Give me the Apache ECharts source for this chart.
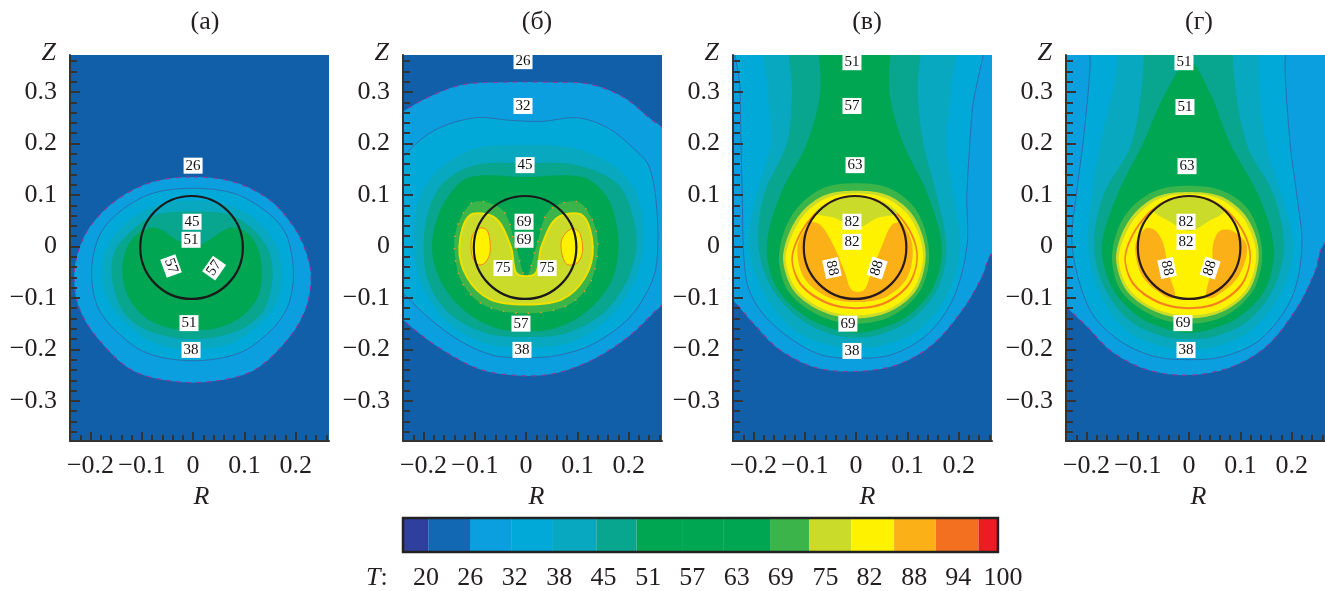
<!DOCTYPE html>
<html><head><meta charset="utf-8">
<style>html,body{margin:0;padding:0;background:#fff}#c{width:1325px;height:591px}</style>
<script src="https://cdn.jsdelivr.net/npm/echarts@6/dist/echarts.min.js"></script>
</head><body><div id="c"></div>
<script>
// colour of each temperature band
const C26='#0b9fe0',C32='#00a9d8',C38='#08a8c0',C45='#08a58f',C51='#00a651',C69='#3bb54a',C75='#cbdb2a',C82='#fff200',C88='#fbb017',C94='#f37021';
const panelTitles=['(а)','(б)','(в)','(г)'];
const legendLevels=[20,26.15,32.3,38.46,44.6,50.8,56.9,63.1,69.2,75.4,81.5,87.7,93.8,100];
const legendEdges=[16.81,20.3,26.1,31.8,37.6,43.6,49.2,55.5,61.3,67.7,73.1,79,84.9,90.7,96.6,99.3];
const legendColors=['#2e3f9e','#1268b3',C26,C32,C38,C45,C51,C51,C51,C69,C75,C82,C88,C94,'#ed1c24'];
const majorX=[-0.2,-0.1,0,0.1,0.2];
const minorX=[-0.24,-0.22,-0.18,-0.16,-0.14,-0.12,-0.08,-0.06,-0.04,-0.02,0.02,0.04,0.06,0.08,0.12,0.14,0.16,0.18,0.22,0.24,0.26];
const majorY=[-0.3,-0.2,-0.1,0,0.1,0.2,0.3];
const minorY=[-0.36,-0.34,-0.32,-0.28,-0.26,-0.24,-0.22,-0.18,-0.16,-0.14,-0.12,-0.08,-0.06,-0.04,-0.02,0.02,0.04,0.06,0.08,0.12,0.14,0.16,0.18,0.22,0.24,0.26,0.28,0.32,0.34,0.36];

// Panel (a) contours [R,Z]
const a26=[[0,.135],[.08,.125],[.15,.09],[.195,.04],[.22,-.01],[.23,-.06],[.22,-.12],[.185,-.18],[.12,-.24],[.04,-.262],[-.04,-.262],[-.12,-.24],[-.185,-.18],[-.222,-.12],[-.232,-.06],[-.224,-.01],[-.2,.04],[-.15,.09],[-.08,.125]];
const a32=[[0,.113],[.08,.103],[.14,.07],[.178,.03],[.193,-.02],[.195,-.07],[.183,-.12],[.15,-.165],[.09,-.207],[0,-.222],[-.09,-.207],[-.15,-.165],[-.185,-.12],[-.197,-.07],[-.195,-.02],[-.178,.03],[-.14,.07],[-.08,.103]];
const a38=[[0,.09],[.07,.08],[.125,.05],[.163,.0],[.173,-.05],[.165,-.105],[.125,-.155],[.07,-.19],[0,-.2],[-.07,-.19],[-.125,-.155],[-.165,-.105],[-.177,-.05],[-.167,.0],[-.125,.05],[-.07,.08]];
const a45=[[0,.068],[.07,.062],[.115,.035],[.148,-.01],[.155,-.06],[.14,-.12],[.105,-.155],[.05,-.175],[0,-.18],[-.05,-.175],[-.105,-.155],[-.14,-.12],[-.158,-.06],[-.153,-.01],[-.115,.035],[-.07,.062]];
const a51=[[0,-.002],[.03,.012],[.07,.036],[.1,.03],[.125,.0],[.134,-.05],[.125,-.1],[.09,-.14],[.04,-.16],[0,-.162],[-.04,-.16],[-.09,-.14],[-.125,-.1],[-.138,-.05],[-.128,.0],[-.1,.03],[-.07,.036],[-.03,.012]];

// Panel (б) contours
const b26=[[-.29,.22],[-.24,.262],[-.18,.295],[-.12,.315],[-.05,.319],[.05,.319],[.125,.315],[.19,.29],[.24,.25],[.3,.2],[.34,.05],[.34,-.06],[.265,-.114],[.2,-.175],[.13,-.22],[.05,-.248],[-.03,-.25],[-.1,-.235],[-.18,-.19],[-.24,-.143],[-.3,-.09],[-.33,.05]];
const b32=[[-.27,.13],[-.24,.174],[-.18,.225],[-.1,.25],[-.03,.245],[.03,.243],[.1,.25],[.16,.23],[.21,.19],[.24,.155],[.255,.07],[.255,-.03],[.24,-.08],[.2,-.14],[.13,-.19],[.06,-.212],[0,-.216],[-.07,-.21],[-.15,-.17],[-.24,-.09],[-.27,-.04]];
const b38=[[0,.197],[.1,.19],[.18,.15],[.22,.09],[.228,.0],[.21,-.07],[.16,-.14],[.09,-.185],[0,-.197],[-.09,-.185],[-.16,-.14],[-.205,-.07],[-.218,.0],[-.21,.09],[-.17,.15],[-.1,.19]];
const b45=[[0,.162],[.1,.158],[.175,.125],[.205,.07],[.215,.0],[.195,-.07],[.15,-.13],[.08,-.168],[0,-.176],[-.08,-.168],[-.15,-.13],[-.19,-.07],[-.2,.0],[-.19,.07],[-.16,.125],[-.1,.158]];
const b51=[[0,.135],[.11,.135],[.155,.1],[.175,.05],[.18,-.01],[.165,-.07],[.12,-.125],[.06,-.158],[0,-.165],[-.06,-.158],[-.12,-.125],[-.165,-.07],[-.183,-.01],[-.175,.05],[-.15,.1],[-.11,.135]];
const b69=[[0,-.06],[.02,.0],[.045,.07],[.1,.087],[.13,.05],[.14,.0],[.125,-.07],[.08,-.115],[0,-.13],[-.08,-.115],[-.125,-.07],[-.14,.0],[-.13,.05],[-.1,.087],[-.045,.07],[-.02,.0]];
const b75=[[0,-.058],[.02,-.05],[.03,.0],[.06,.055],[.11,.06],[.13,.0],[.115,-.06],[.07,-.103],[0,-.113],[-.07,-.103],[-.115,-.06],[-.13,.0],[-.11,.06],[-.06,.055],[-.03,.0],[-.02,-.05]];
const b82L=[[-.105,.02],[-.09,.036],[-.075,.03],[-.07,-.01],[-.08,-.032],[-.095,-.035],[-.106,-.015]];
const b82R=[[.07,.015],[.09,.035],[.105,.025],[.11,-.01],[.1,-.032],[.08,-.035],[.07,-.015]];

// Panel (в) contours
const c26=[[-.3,.5],[.35,.5],[.35,.06],[.265,-.013],[.245,-.06],[.21,-.12],[.15,-.19],[.08,-.23],[0,-.243],[-.08,-.235],[-.15,-.2],[-.2,-.15],[-.24,-.105],[-.3,-.05]];
const c32=[[-.228,.5],[.238,.5],[.225,.25],[.216,.1],[.216,0],[.19,-.1],[.14,-.17],[.07,-.21],[0,-.217],[-.07,-.21],[-.14,-.17],[-.19,-.12],[-.215,-.06],[-.222,.1],[-.226,.3]];
const c38=[[-.174,.5],[.19,.5],[.185,.3],[.176,.2],[.19,.1],[.203,0],[.18,-.09],[.125,-.16],[.06,-.19],[0,-.197],[-.06,-.19],[-.125,-.16],[-.18,-.09],[-.21,0],[-.194,.1],[-.167,.2],[-.172,.3]];
const c45=[[-.125,.5],[.118,.5],[.12,.3],[.131,.2],[.157,.1],[.176,0],[.16,-.08],[.11,-.14],[.05,-.17],[0,-.177],[-.05,-.17],[-.11,-.14],[-.165,-.08],[-.19,0],[-.18,.1],[-.135,.2],[-.125,.3]];
const c51=[[-.067,.5],[.06,.5],[.065,.3],[.092,.2],[.14,.1],[.167,0],[.15,-.08],[.1,-.135],[.045,-.16],[0,-.168],[-.045,-.16],[-.1,-.135],[-.155,-.08],[-.174,0],[-.148,.1],[-.096,.2],[-.07,.3]];
const c69=[[0,.123],[.06,.115],[.11,.08],[.135,.03],[.142,-.03],[.122,-.09],[.07,-.135],[0,-.15],[-.07,-.135],[-.13,-.09],[-.15,-.03],[-.14,.03],[-.11,.08],[-.06,.115]];
const c75=[[0,.108],[.06,.1],[.105,.068],[.13,.02],[.135,-.03],[.115,-.088],[.065,-.127],[0,-.14],[-.065,-.127],[-.12,-.088],[-.142,-.03],[-.133,.02],[-.105,.068],[-.06,.1]];
const c82=[[0,.103],[.055,.095],[.1,.063],[.125,.015],[.13,-.03],[.11,-.085],[.063,-.122],[0,-.134],[-.063,-.122],[-.115,-.085],[-.137,-.03],[-.128,.015],[-.1,.063],[-.055,.095]];
const c88Ring=[[0,.098],[.05,.088],[.09,.055],[.115,.012],[.12,-.03],[.102,-.078],[.057,-.112],[0,-.122],[-.057,-.112],[-.107,-.078],[-.126,-.03],[-.117,.012],[-.09,.055],[-.05,.088]];
const c82In=[[0,.096],[.05,.085],[.088,.052],[.112,.01],[.117,-.03],[.099,-.075],[.055,-.108],[0,-.118],[-.055,-.108],[-.104,-.075],[-.123,-.03],[-.114,.01],[-.088,.052],[-.05,.085]];
const c75Cap=[[0,.098],[.05,.088],[.08,.065],[.04,.055],[0,.035],[-.04,.055],[-.08,.065],[-.05,.088]];
const c88Lobes=[[-.09,.045],[-.07,.042],[-.043,0],[-.022,-.05],[-.008,-.085],[.015,-.085],[.03,-.05],[.05,0],[.07,.042],[.09,.045],[.11,0],[.1,-.06],[.06,-.097],[0,-.108],[-.058,-.097],[-.102,-.06],[-.114,0]];

// Panel (г) contours
const d26=[[-.3,.5],[.35,.5],[.35,.06],[.265,.007],[.245,-.05],[.21,-.12],[.15,-.195],[.08,-.235],[0,-.25],[-.08,-.24],[-.15,-.205],[-.2,-.155],[-.24,-.117],[-.3,-.06]];
const d32=[[-.19,.5],[.187,.5],[.187,.35],[.197,.2],[.21,.1],[.22,0],[.2,-.1],[.14,-.18],[.07,-.213],[0,-.22],[-.07,-.213],[-.14,-.18],[-.195,-.12],[-.228,0],[-.22,.1],[-.207,.2],[-.193,.35]];
const d38=[[-.141,.5],[.135,.5],[.135,.35],[.15,.2],[.18,.1],[.203,0],[.18,-.09],[.125,-.16],[.06,-.193],[0,-.2],[-.06,-.193],[-.125,-.16],[-.175,-.09],[-.197,0],[-.19,.1],[-.173,.2],[-.141,.35]];
const d45=[[-.089,.5],[.086,.5],[.086,.35],[.112,.2],[.165,.1],[.185,0],[.165,-.08],[.115,-.145],[.05,-.175],[0,-.18],[-.05,-.175],[-.115,-.145],[-.165,-.08],[-.185,0],[-.167,.1],[-.112,.2],[-.089,.35]];
const d51=[[0,.36],[.04,.3],[.08,.2],[.135,.1],[.165,0],[.15,-.08],[.1,-.135],[.045,-.16],[0,-.168],[-.045,-.16],[-.1,-.135],[-.15,-.08],[-.17,0],[-.14,.1],[-.09,.2],[-.045,.3]];
const d69=[[0,.118],[.06,.11],[.11,.078],[.135,.03],[.142,-.03],[.122,-.09],[.07,-.135],[0,-.15],[-.07,-.135],[-.13,-.09],[-.15,-.03],[-.14,.03],[-.11,.078],[-.06,.11]];
const d75=[[0,.106],[.06,.098],[.105,.066],[.13,.02],[.135,-.03],[.115,-.088],[.065,-.127],[0,-.14],[-.065,-.127],[-.12,-.088],[-.142,-.03],[-.133,.02],[-.105,.066],[-.06,.098]];
const d82=[[0,.102],[.055,.094],[.1,.062],[.125,.015],[.13,-.03],[.11,-.085],[.063,-.122],[0,-.134],[-.063,-.122],[-.115,-.085],[-.137,-.03],[-.128,.015],[-.1,.062],[-.055,.094]];
const d88Ring=[[0,.098],[.05,.088],[.09,.055],[.115,.012],[.12,-.03],[.102,-.078],[.057,-.112],[0,-.122],[-.057,-.112],[-.107,-.078],[-.126,-.03],[-.117,.012],[-.09,.055],[-.05,.088]];
const d82In=[[0,.096],[.05,.085],[.088,.052],[.112,.01],[.117,-.03],[.099,-.075],[.055,-.108],[0,-.118],[-.055,-.108],[-.104,-.075],[-.123,-.03],[-.114,.01],[-.088,.052],[-.05,.085]];
const d75Cap=[[0,.098],[.05,.088],[.07,.07],[.04,.05],[0,.03],[-.04,.05],[-.07,.07],[-.05,.088]];
const d88L=[[-.085,.035],[-.065,.03],[-.05,.005],[-.04,-.05],[-.027,-.098],[-.045,-.098],[-.09,-.06],[-.105,0]];
const d88R=[[.085,.03],[.06,.03],[.047,.005],[.045,-.04],[.033,-.098],[.05,-.098],[.095,-.06],[.113,0]];

// Contour labels [R,Z,text,rotation]
const labelsA=[[0,.157,'26',0],[-.002,.048,'45',0],[-.004,.013,'51',0],[-.043,-.038,'57',-70],[.041,-.042,'57',55],[-.008,-.149,'51',0],[-.004,-.201,'38',0]];
const labelsB=[[-.006,.36,'26',0],[-.006,.273,'32',0],[-.002,.158,'45',0],[-.004,.048,'69',0],[-.004,.013,'69',0],[-.045,-.042,'75',0],[.041,-.042,'75',0],[-.01,-.15,'57',0],[-.008,-.201,'38',0]];
const labelsC=[[-.008,.358,'51',0],[-.008,.273,'57',0],[-.002,.158,'63',0],[-.008,.048,'82',0],[-.008,.009,'82',0],[-.047,-.042,'88',-78],[.041,-.042,'88',72],[-.016,-.15,'69',0],[-.008,-.203,'38',0]];
const labelsD=[[-.01,.358,'51',0],[-.008,.271,'51',0],[-.004,.156,'63',0],[-.006,.048,'82',0],[-.006,.009,'82',0],[-.043,-.042,'88',-78],[.041,-.042,'88',72],[-.012,-.149,'69',0],[-.006,-.201,'38',0]];
const circleCentres=[[-.003,-.002],[-.002,-.002],[-.002,-.002],[0,-.002]];
const circleRadius=.1;

const L26={stroke:'#8a3a9a',dash:[5,5],width:1.2};
const L32={stroke:'#2a6fb0',width:1};
const LO={stroke:'#f7941d',dash:[1.5,11],width:1.5};
const LY={stroke:'#f2e100',width:2};
const LR={stroke:'#f58220',width:1};
const layers=[
 [[a26,C26,L26],[a32,C32,L32],[a38,C38],[a45,C45],[a51,C51]],
 [[b26,C26,L26],[b32,C32,L32],[b38,C38],[b45,C45],[b51,C51],[b69,C69,LO],[b75,C75,LY],[b82L,C82,LR],[b82R,C82,LR]],
 [[c26,C26,L26],[c32,C32,L32],[c38,C38],[c45,C45],[c51,C51],[c69,C69],[c75,C75],[c82,C82],[c88Ring,'#f58220'],[c82In,C82],[c75Cap,C75],[c88Lobes,C88]],
 [[d26,C26,L26],[d32,C32,L32],[d38,C38],[d45,C45],[d51,C51],[d69,C69],[d75,C75],[d82,C82],[d88Ring,'#f58220'],[d82In,C82],[d75Cap,C75],[d88L,C88],[d88R,C88]]
];
const labelSets=[labelsA,labelsB,labelsC,labelsD];

const SERIF='"Liberation Serif","Times New Roman",serif';
const TXT='#231f20',AX='#333333';
const lefts=[70,403,733,1066],W=259,H=386,TOP=55;
const titleX=[200,532,862,1194],rOff=[2,4,5,3];
const fmt=v=>v===0?'0':String(Math.abs(v)<1e-9?0:v).replace('-','\u2212');
const grids=[],xAxes=[],yAxes=[],series=[];
lefts.forEach((l,i)=>{
 grids.push({left:l,top:TOP,width:W,height:H,show:true,backgroundColor:'#105fa8',borderWidth:0});
 const xi=i*2,yi=i*2;
 xAxes.push({type:'value',gridIndex:i,min:-.24,max:.265,position:'bottom',z:10,
  name:'R',nameLocation:'middle',nameGap:42,nameTextStyle:{fontFamily:SERIF,fontStyle:'italic',fontSize:26,color:TXT,padding:[0,0,0,rOff[i]*2]},
  splitLine:{show:false},axisLine:{onZero:false,lineStyle:{color:AX,width:2}},
  axisTick:{inside:true,length:9,customValues:majorX,lineStyle:{color:AX,width:2}},
  axisLabel:{customValues:majorX,formatter:fmt,fontFamily:SERIF,fontSize:26,color:TXT,margin:12}});
 xAxes.push({type:'value',gridIndex:i,min:-.24,max:.265,position:'bottom',z:10,splitLine:{show:false},axisLine:{show:false,onZero:false},
  axisTick:{inside:true,length:6,customValues:minorX,lineStyle:{color:AX,width:2}},axisLabel:{show:false}});
 yAxes.push({type:'value',gridIndex:i,min:-.378,max:.372,position:'left',z:10,
  name:'Z',nameLocation:'end',nameGap:2,nameRotate:0,nameTextStyle:{fontFamily:SERIF,fontStyle:'italic',fontSize:26,color:TXT,align:'right',verticalAlign:'middle',padding:[0,14,0,0]},
  splitLine:{show:false},axisLine:{onZero:false,lineStyle:{color:AX,width:2}},
  axisTick:{inside:true,length:10,customValues:majorY,lineStyle:{color:AX,width:2}},
  axisLabel:{customValues:majorY,formatter:fmt,fontFamily:SERIF,fontSize:26,color:TXT,margin:13}});
 yAxes.push({type:'value',gridIndex:i,min:-.378,max:.372,position:'left',z:10,splitLine:{show:false},axisLine:{show:false,onZero:false},
  axisTick:{inside:true,length:7,customValues:minorY,lineStyle:{color:AX,width:2}},axisLabel:{show:false}});
 const ls=layers[i];
 series.push({type:'custom',xAxisIndex:xi,yAxisIndex:yi,clip:true,z:2,silent:true,
  data:ls.map((_,k)=>[k]),encode:{x:-1,y:-1},
  renderItem:(p,api)=>{const k=api.value(0),l=ls[k],st=l[2]||{};
   return {type:'polygon',shape:{points:l[0].map(q=>api.coord(q)),smooth:.33},
    style:{fill:l[1],stroke:st.stroke||null,lineWidth:st.width||0,lineDash:st.dash||null}};}});
 series.push({type:'custom',xAxisIndex:xi,yAxisIndex:yi,clip:true,z:3,silent:true,
  data:[circleCentres[i]],
  renderItem:(p,api)=>{const c=api.coord([api.value(0),api.value(1)]),s=api.size([circleRadius,circleRadius]);
   return {type:'ellipse',shape:{cx:c[0],cy:c[1],rx:s[0],ry:s[1]},style:{fill:null,stroke:i<2?'#1a1a1a':'#2a1a1a',lineWidth:2.2}};}});
 series.push({type:'scatter',xAxisIndex:xi,yAxisIndex:yi,z:5,silent:true,symbolSize:1,itemStyle:{opacity:0},
  data:labelSets[i].map(d=>({value:[d[0],d[1]],name:d[2],
   label:{show:true,opacity:1,position:'inside',formatter:d[2],rotate:d[3],fontFamily:SERIF,fontSize:15,lineHeight:15,color:'#111',backgroundColor:'#ffffff',padding:[1,2,0,2]}}))});
});
// colour bar
const gi=4;
grids.push({left:403,top:518,width:600,height:34,show:false});
xAxes.push({type:'value',gridIndex:gi,min:16.81,max:100,position:'bottom',splitLine:{show:false},axisLine:{show:false},axisTick:{show:false},
 axisLabel:{customValues:legendLevels,formatter:v=>String(Math.round(v)),fontFamily:SERIF,fontSize:26,color:TXT,margin:13}});
yAxes.push({type:'value',gridIndex:gi,min:0,max:1,show:false});
series.push({type:'custom',xAxisIndex:8,yAxisIndex:8,z:2,silent:true,
 data:legendColors.map((_,k)=>[k]),encode:{x:-1,y:-1},
 renderItem:(p,api)=>{const k=api.value(0),a=api.coord([legendEdges[k],1]),b=api.coord([legendEdges[k+1],0]);
  return {type:'rect',shape:{x:a[0],y:a[1],width:b[0]-a[0],height:b[1]-a[1]},style:{fill:legendColors[k]}};}});
series.push({type:'custom',xAxisIndex:8,yAxisIndex:8,z:3,silent:true,
 data:[[legendEdges[0],legendEdges[legendEdges.length-1]]],encode:{x:-1,y:-1},
 renderItem:(p,api)=>{const a=api.coord([api.value(0),1]),b=api.coord([api.value(1),0]);
  return {type:'rect',shape:{x:a[0],y:a[1],width:b[0]-a[0],height:b[1]-a[1]},style:{fill:null,stroke:'#222',lineWidth:2.5}};}});

const chart=echarts.init(document.getElementById('c'),null,{renderer:'canvas'});
chart.setOption({animation:false,backgroundColor:'#fff',
 title:panelTitles.map((t,i)=>({text:t,left:titleX[i],top:4,textAlign:'center',textStyle:{fontFamily:SERIF,fontWeight:'normal',fontSize:26,color:TXT}})),
 grid:grids,xAxis:xAxes,yAxis:yAxes,series,
 graphic:[{type:'text',left:366,top:565,style:{text:'{i|T}{n|:}',rich:{i:{fontFamily:SERIF,fontStyle:'italic',fontSize:26,fill:TXT},n:{fontFamily:SERIF,fontSize:26,fill:TXT}}}}]
});
</script></body></html>
